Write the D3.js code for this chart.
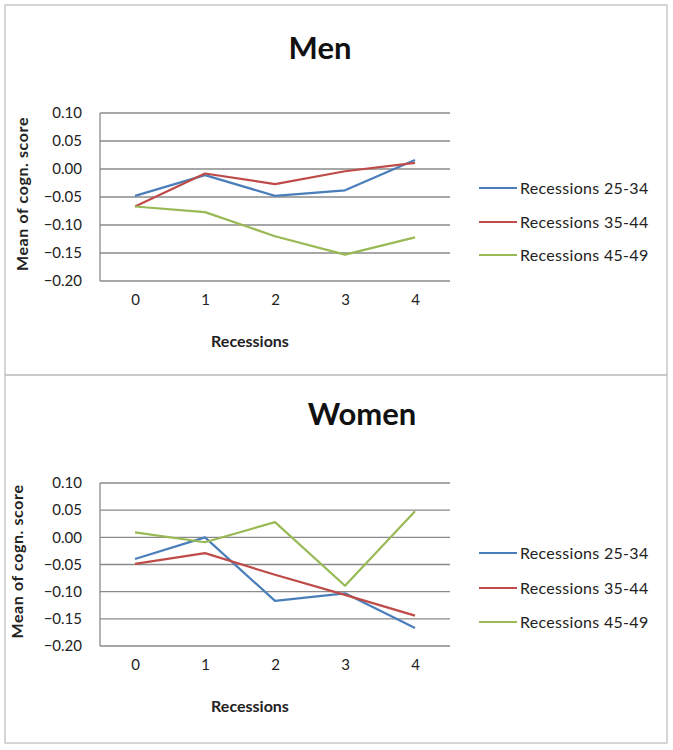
<!DOCTYPE html>
<html>
<head>
<meta charset="utf-8">
<script src="https://cdn.jsdelivr.net/npm/d3@7"></script>
<style>
  html, body { margin: 0; padding: 0; background: #fff; }
  svg { display: block; font-family: Lato, "Open Sans", sans-serif; }
</style>
</head>
<body>
<svg id="chart" width="673" height="750"></svg>
<script>
// ---- Data ----
const categories = [0, 1, 2, 3, 4];
const seriesNames = ["Recessions 25-34", "Recessions 35-44", "Recessions 45-49"];
const yTicks = [0.10, 0.05, 0.00, -0.05, -0.10, -0.15, -0.20];

const men2534 = [-0.048, -0.011, -0.048, -0.038, 0.016];
const men3544 = [-0.067, -0.008, -0.027, -0.004, 0.011];
const men4549 = [-0.067, -0.077, -0.120, -0.153, -0.122];

const women2534 = [-0.040, 0.000, -0.117, -0.103, -0.167];
const women3544 = [-0.049, -0.029, -0.069, -0.106, -0.144];
const women4549 = [0.009, -0.009, 0.028, -0.089, 0.048];

const colors = ["#4A7EBB", "#BE4B48", "#98B954"];

// ---- Layout ----
const svg = d3.select("#chart");

svg.append("rect").attr("x", 5).attr("y", 5).attr("width", 662).attr("height", 738)
  .attr("fill", "none").attr("stroke", "#c8c8c8").attr("stroke-width", 1.5);
svg.append("line").attr("x1", 5).attr("x2", 667).attr("y1", 375).attr("y2", 375)
  .attr("stroke", "#b8b8b8").attr("stroke-width", 1.5);

const panels = [
  { title: "Men", titleX: 320, titleY: 59, top: 113, bottom: 281, ytitleX: 28,
    series: [men2534, men3544, men4549], legendY: [188, 222, 255] },
  { title: "Women", titleX: 362, titleY: 425, top: 483, bottom: 646, ytitleX: 23,
    series: [women2534, women3544, women4549], legendY: [553, 588, 622] }
];

panels.forEach(p => {
  const g = svg.append("g");
  const x = d3.scalePoint().domain(categories).range([100, 450]).padding(0.5);
  const y = d3.scaleLinear().domain([-0.20, 0.10]).range([p.bottom, p.top]);

  g.append("text").attr("x", p.titleX).attr("y", p.titleY)
    .attr("text-anchor", "middle").attr("font-size", 31).attr("font-weight", "bold")
    .attr("fill", "#111").text(p.title);

  g.append("g").selectAll("line").data(yTicks).join("line")
    .attr("x1", 100).attr("x2", 450)
    .attr("y1", d => y(d)).attr("y2", d => y(d))
    .attr("stroke", "#8a8a8a").attr("stroke-width", 1.3);

  g.append("line").attr("x1", 100).attr("x2", 100).attr("y1", p.top).attr("y2", p.bottom)
    .attr("stroke", "#8a8a8a").attr("stroke-width", 1.3);

  const yAxis = d3.axisLeft(y).tickValues(yTicks).tickFormat(d3.format(".2f")).tickSize(0).tickPadding(18);
  const ya = g.append("g").attr("transform", "translate(100,0)").call(yAxis);
  ya.select(".domain").remove();
  ya.selectAll("text").attr("font-size", 15).attr("fill", "#222")
    .attr("font-family", "Lato, 'Open Sans', sans-serif");

  const xAxis = d3.axisBottom(x).tickSize(0).tickPadding(13);
  const xa = g.append("g").attr("transform", `translate(0,${p.bottom})`).call(xAxis);
  xa.select(".domain").remove();
  xa.selectAll("text").attr("font-size", 15).attr("fill", "#222")
    .attr("font-family", "Lato, 'Open Sans', sans-serif");

  g.append("text").attr("x", 250).attr("y", p.bottom + 66)
    .attr("text-anchor", "middle").attr("font-size", 16).attr("font-weight", "bold")
    .attr("fill", "#222").text("Recessions");
  g.append("text")
    .attr("transform", `translate(${p.ytitleX},${(p.top + p.bottom) / 2 - 3}) rotate(-90)`)
    .attr("text-anchor", "middle").attr("font-size", 16).attr("font-weight", "bold")
    .attr("letter-spacing", 0.6)
    .attr("fill", "#222").text("Mean of cogn. score");

  const line = d3.line().x((d, i) => x(categories[i])).y(d => y(d));
  p.series.forEach((s, i) => {
    g.append("path").datum(s).attr("d", line)
      .attr("fill", "none").attr("stroke", colors[i]).attr("stroke-width", 2.2)
      .attr("stroke-linejoin", "round");
  });

  seriesNames.forEach((name, i) => {
    const ly = p.legendY[i];
    g.append("line").attr("x1", 479).attr("x2", 517).attr("y1", ly).attr("y2", ly)
      .attr("stroke", colors[i]).attr("stroke-width", 2.2);
    g.append("text").attr("x", 520).attr("y", ly + 5.5).attr("font-size", 16)
      .attr("letter-spacing", 0.3)
      .attr("fill", "#222").text(name);
  });
});
</script>
</body>
</html>
